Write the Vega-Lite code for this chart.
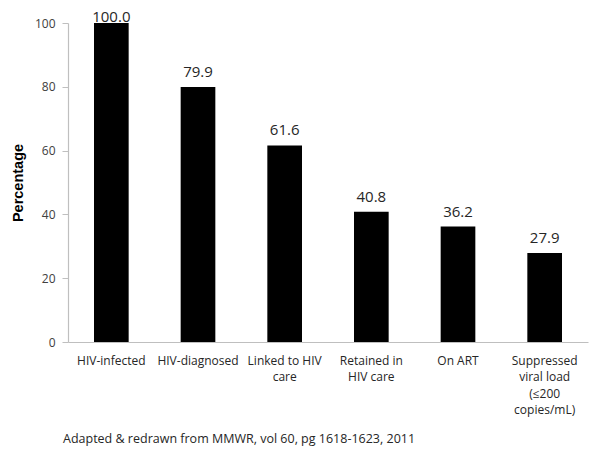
{
  "$schema": "https://vega.github.io/schema/vega-lite/v6.json",
  "width": 520,
  "height": 319,
  "autosize": {"type": "none"},
  "padding": {"left": 68, "top": 23, "right": 12, "bottom": 114},
  "background": "white",
  "config": {"view": {"stroke": null}, "font": "Open Sans"},
  "title": {
    "text": "Adapted & redrawn from MMWR, vol 60, pg 1618-1623, 2011",
    "orient": "bottom",
    "anchor": "start",
    "frame": "group",
    "offset": 17,
    "dx": -5,
    "fontSize": 12.5,
    "fontWeight": "normal",
    "color": "#262626",
    "font": "Open Sans"
  },
  "data": {
    "values": [
      {"stage": "HIV-infected", "value": 100.0},
      {"stage": "HIV-diagnosed", "value": 79.9},
      {"stage": "Linked to HIV|care", "value": 61.6},
      {"stage": "Retained in|HIV care", "value": 40.8},
      {"stage": "On ART", "value": 36.2},
      {"stage": "Suppressed|viral load|(≤200|copies/mL)", "value": 27.9}
    ]
  },
  "encoding": {
    "x": {
      "field": "stage",
      "type": "nominal",
      "sort": ["HIV-infected", "HIV-diagnosed", "Linked to HIV|care", "Retained in|HIV care", "On ART", "Suppressed|viral load|(≤200|copies/mL)"],
      "scale": {"paddingInner": 0.6, "paddingOuter": 0.3},
      "axis": {
        "title": null,
        "labelAngle": 0,
        "labelExpr": "split(datum.label, '|')",
        "labelFontSize": 12,
        "labelColor": "#262626",
        "labelLineHeight": 16.5,
        "labelPadding": 13,
        "ticks": false,
        "domainColor": "#bfbfbf",
        "domainWidth": 1.2,
        "labelLimit": 0
      }
    },
    "y": {
      "field": "value",
      "type": "quantitative",
      "scale": {"domain": [0, 100], "nice": false},
      "axis": {
        "title": "Percentage",
        "values": [0, 20, 40, 60, 80, 100],
        "grid": false,
        "domainColor": "#bfbfbf",
        "domainWidth": 1.2,
        "tickColor": "#bfbfbf",
        "tickSize": 6,
        "labelFontSize": 12,
        "labelColor": "#404040",
        "labelPadding": 7,
        "titleFontSize": 14.5,
        "titleFontWeight": "bold",
        "titleColor": "#000000",
        "titlePadding": 9,
        "titleFont": "Liberation Sans"
      }
    }
  },
  "layer": [
    {"mark": {"type": "bar", "color": "#000000"}},
    {
      "transform": [{"filter": "datum.value < 100"}],
      "mark": {"type": "text", "baseline": "alphabetic", "dy": -10, "fontSize": 15, "color": "#262626"},
      "encoding": {"text": {"field": "value", "type": "quantitative", "format": ".1f"}}
    },
    {
      "transform": [{"filter": "datum.value >= 100"}],
      "mark": {"type": "text", "baseline": "alphabetic", "dy": -1, "fontSize": 15, "color": "#262626"},
      "encoding": {"text": {"field": "value", "type": "quantitative", "format": ".1f"}}
    }
  ]
}
